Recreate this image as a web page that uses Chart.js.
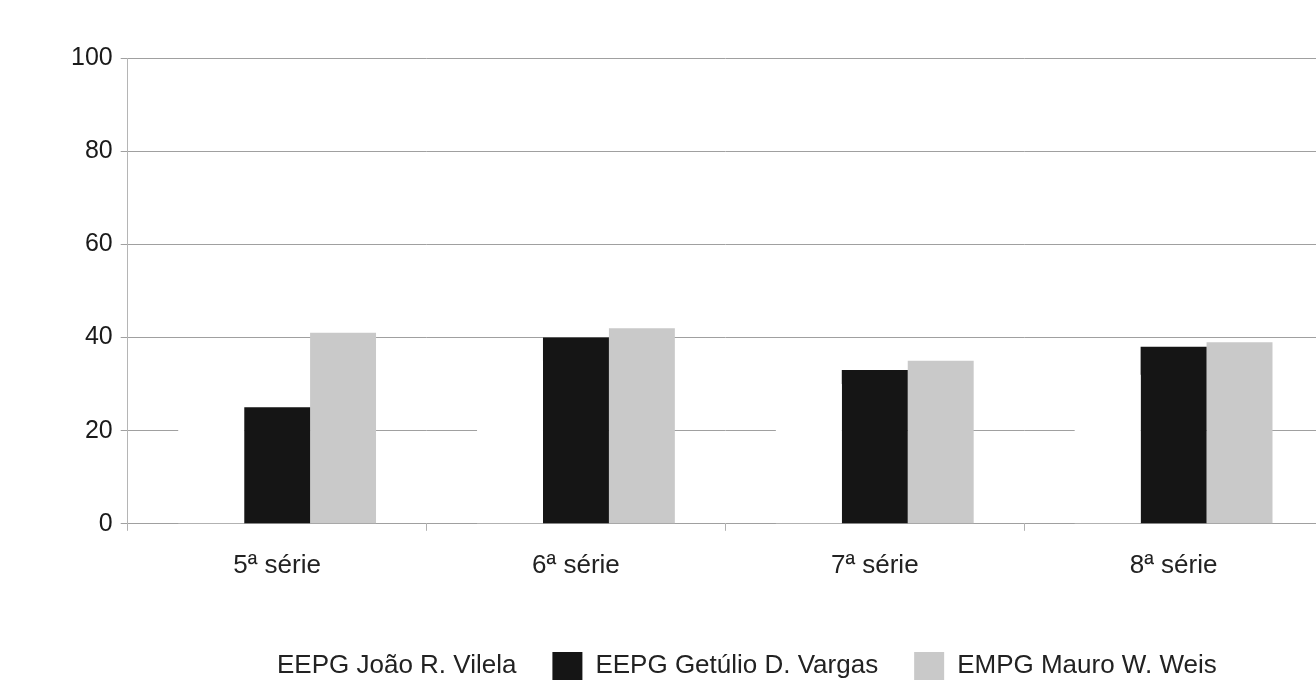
<!DOCTYPE html>
<html>
<head>
<meta charset="utf-8">
<script src="https://cdn.jsdelivr.net/npm/chart.js@4.4.0/dist/chart.umd.min.js"></script>
<style>
  html, body { margin: 0; padding: 0; background: #fff; overflow: hidden; }
  #wrap { width: 1326px; height: 690px; position: relative; }
</style>
</head>
<body>
<div id="wrap"><canvas id="myChart"></canvas></div>
<script>
const categories = ['5ª série', '6ª série', '7ª série', '8ª série'];
const seriesNames = ['EEPG João R. Vilela', 'EEPG Getúlio D. Vargas', 'EMPG Mauro W. Weis'];
const vilela = [30, 35, 30, 32];
const vargas = [25, 40, 33, 38];
const weis = [41, 42, 35, 39];
const yTicks = [0, 20, 40, 60, 80, 100];

(function() {
    const font = '"Liberation Sans", Arial, Helvetica, sans-serif';

    const data = {
        labels: categories,
        datasets: [
            { label: seriesNames[0], data: vilela, backgroundColor: '#ffffff', borderColor: '#ffffff', borderWidth: 0 },
            { label: seriesNames[1], data: vargas, backgroundColor: '#151515', borderColor: '#151515', borderWidth: 0 },
            { label: seriesNames[2], data: weis, backgroundColor: '#c9c9c9', borderColor: '#c9c9c9', borderWidth: 0 }
        ]
    };

    const myChart = new Chart(document.getElementById('myChart'), {
        type: 'bar',
        data: data,
        options: {
            responsive: true,
            maintainAspectRatio: false,
            animation: false,
            categoryPercentage: 0.662,
            barPercentage: 1.0,
            layout: { padding: { top: 58, left: 63, right: 3, bottom: 0 } },
            scales: {
                x: {
                    grid: { display: true, drawOnChartArea: false, drawTicks: true, tickLength: 7, color: '#b0b0b0' },
                    border: { display: false },
                    ticks: { color: '#222', padding: 19, font: { family: font, size: 26 } }
                },
                y: {
                    min: 0,
                    max: 100,
                    afterBuildTicks: (axis) => { axis.ticks = yTicks.map(v => ({ value: v })); },
                    grid: { color: '#a0a0a0', lineWidth: 1, tickLength: 7 },
                    border: { display: true, color: '#b5b5b5' },
                    ticks: { color: '#1a1a1a', padding: 8, font: { family: font, size: 25 } }
                }
            },
            plugins: {
                tooltip: { enabled: false },
                legend: {
                    position: 'bottom',
                    fullSize: false,
                    title: { display: true, text: ' ', padding: { top: 4, bottom: 0 }, font: { size: 10 } },
                    labels: {
                        color: '#222',
                        boxWidth: 30,
                        boxHeight: 28,
                        padding: 36,
                        font: { family: font, size: 26 }
                    }
                }
            }
        }
    });
})();
</script>
</body>
</html>
